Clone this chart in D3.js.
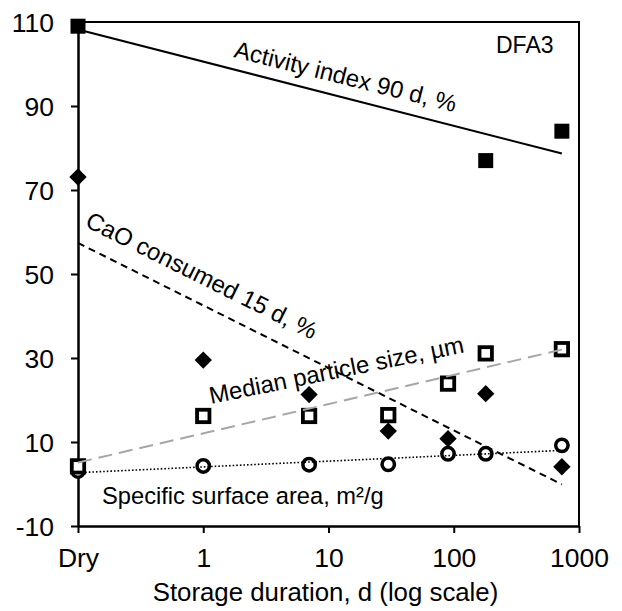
<!DOCTYPE html>
<html>
<head>
<meta charset="utf-8">
<script src="https://cdn.jsdelivr.net/npm/d3@7"></script>
<style>
  html, body { margin: 0; padding: 0; background: #fff; }
  svg { display: block; font-family: "Liberation Sans", Arial, sans-serif; }
</style>
</head>
<body>
<svg id="chart" width="622" height="611"></svg>
<script>
// ---- data ----
const days = [0.1, 1, 7, 30, 90, 180, 730];           // 0.1 = "Dry"
const xTicks = [0.1, 1, 10, 100, 1000];
const xTickLabels = ["Dry", "1", "10", "100", "1000"];
const yTicks = [-10, 10, 30, 50, 70, 90, 110];

const activityIndex = [109, null, null, null, null, 77, 84];
const caoConsumed   = [73.1, 29.5, 21.3, 12.6, 10.8, 21.5, 4.1];
const medianSize    = [4.2, 16.2, 16.2, 16.4, 23.9, 31.1, 32.1];
const surfaceArea   = [3.1, 4.3, 4.6, 4.7, 7.2, 7.2, 9.2];

// trend lines: value at first and last storage time
const trendX        = [0.1, 730];
const activityTrend = [108.2, 78.7];
const caoTrend      = [57.4, -0.1];
const medianTrend   = [5.1, 32.0];
const surfaceTrend  = [2.7, 8.0];

// ---- layout ----
const svg = d3.select("#chart");
const L = 78, R = 579, T = 22, B = 526;
const x = d3.scaleLog().domain([0.1, 1000]).range([L, R]);
const y = d3.scaleLinear().domain([-10, 110]).range([B, T]);

// frame (top and right)
svg.append("path")
  .attr("d", `M${L},${T}H${R}V${B}`)
  .attr("fill", "none").attr("stroke", "#000").attr("stroke-width", 2);

// axes
const xAxis = d3.axisBottom(x).tickValues(xTicks)
  .tickFormat((d, i) => xTickLabels[i]).tickSize(7).tickSizeOuter(0);
const gx = svg.append("g").attr("transform", `translate(0,${B})`).call(xAxis);
const yAxis = d3.axisLeft(y).tickValues(yTicks)
  .tickFormat(d => String(d)).tickSize(7).tickSizeOuter(0);
const gy = svg.append("g").attr("transform", `translate(${L},0)`).call(yAxis);

[gx, gy].forEach(g => {
  g.select(".domain").attr("stroke", "#000").attr("stroke-width", 2.5);
  g.selectAll(".tick line").attr("stroke", "#000").attr("stroke-width", 2);
  g.selectAll(".tick text").attr("fill", "#000")
    .style("font-family", '"Liberation Sans", Arial, sans-serif')
    .style("font-size", "26.5px");
});
gx.selectAll(".tick text").attr("dy", null).attr("y", 41);
gy.selectAll(".tick text").attr("x", -24).attr("dy", "0.35em");

// axis title
svg.append("text")
  .attr("x", (L + R) / 2 - 3).attr("y", 601)
  .attr("text-anchor", "middle")
  .style("font-size", "25.8px")
  .text("Storage duration, d (log scale)");

// ---- markers ----
const pts = arr => days.map((d, i) => ({ d, v: arr[i] })).filter(p => p.v !== null);

// circles: specific surface area
svg.append("g").selectAll("circle").data(pts(surfaceArea)).join("circle")
  .attr("cx", p => x(p.d)).attr("cy", p => y(p.v)).attr("r", 6.2)
  .attr("fill", "#fff").attr("stroke", "#000").attr("stroke-width", 3.5);

// open squares: median particle size
svg.append("g").selectAll("rect").data(pts(medianSize)).join("rect")
  .attr("x", p => x(p.d) - 6.2).attr("y", p => y(p.v) - 6.2)
  .attr("width", 12.4).attr("height", 12.4)
  .attr("fill", "#fff").attr("stroke", "#000").attr("stroke-width", 3.8);

// diamonds: CaO consumed
const diamond = d3.symbol().type(d3.symbolSquare).size(150);
svg.append("g").selectAll("path").data(pts(caoConsumed)).join("path")
  .attr("d", diamond)
  .attr("transform", p => `translate(${x(p.d)},${y(p.v)}) rotate(45)`)
  .attr("fill", "#000");

// filled squares: activity index
svg.append("g").selectAll("rect").data(pts(activityIndex)).join("rect")
  .attr("x", p => x(p.d) - 7.5).attr("y", p => y(p.v) - 7.5)
  .attr("width", 15).attr("height", 15).attr("fill", "#000");

// ---- trend lines ----
const line = d3.line().x(p => x(p[0])).y(p => y(p[1]));
const trend = arr => trendX.map((d, i) => [d, arr[i]]);

svg.append("path").attr("d", line(trend(activityTrend)))
  .attr("fill", "none").attr("stroke", "#000").attr("stroke-width", 2);
svg.append("path").attr("d", line(trend(caoTrend)))
  .attr("fill", "none").attr("stroke", "#000").attr("stroke-width", 2)
  .attr("stroke-dasharray", "7,5");
svg.append("path").attr("d", line(trend(medianTrend)))
  .attr("fill", "none").attr("stroke", "#a6a6a6").attr("stroke-width", 2)
  .attr("stroke-dasharray", "14,7");
svg.append("path").attr("d", line(trend(surfaceTrend)))
  .attr("fill", "none").attr("stroke", "#000").attr("stroke-width", 1.6)
  .attr("stroke-dasharray", "1.6,2");

// ---- labels ----
const labels = [
  { t: "Activity index 90 d, %", x: 233, y: 57, r: 14, s: 24 },
  { t: "CaO consumed 15 d, %", x: 84, y: 226, r: 26.5, s: 24 },
  { t: "Median particle size, µm", x: 211, y: 404, r: -11.5, s: 24 },
  { t: "Specific surface area, m²/g", x: 102, y: 504, r: 0, s: 23.7 },
  { t: "DFA3", x: 496, y: 53, r: 0, s: 23 }
];
svg.append("g").selectAll("text").data(labels).join("text")
  .attr("transform", d => `translate(${d.x},${d.y}) rotate(${d.r})`)
  .style("font-size", d => d.s + "px")
  .attr("fill", "#000")
  .text(d => d.t);
</script>
</body>
</html>
